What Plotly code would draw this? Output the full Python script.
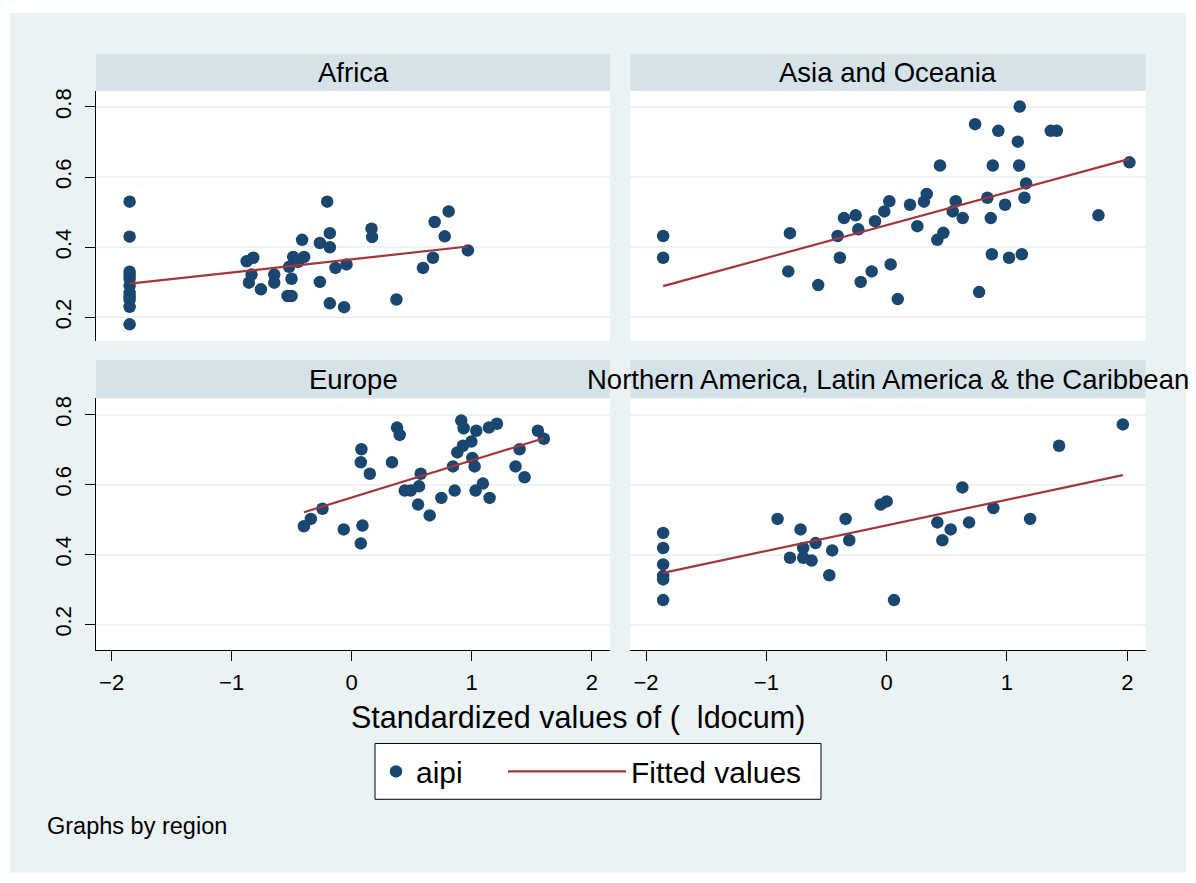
import plotly.graph_objects as go

W, H = 1196, 883
FONT = "Liberation Sans, Arial, sans-serif"
NAVY = "#1A476F"
MAROON = "#A3353D"
BG = "#EAF2F3"
STRIP = "#D5E3E9"

regions = ["Africa", "Asia and Oceania", "Europe",
           "Northern America, Latin America & the Caribbean"]

x_ticks = [-2, -1, 0, 1, 2]
x_tick_labels = ["\u22122", "\u22121", "0", "1", "2"]
y_ticks = [0.2, 0.4, 0.6, 0.8]
y_tick_labels = ["0.2", "0.4", "0.6", "0.8"]

africa_x = [-1.85, -1.85, -1.85, -1.85, -1.85, -1.85, -1.85, -1.85, -1.85, -1.85, -1.85,
            -0.875, -0.820, -0.834, -0.856, -0.756, -0.645, -0.645, -0.534, -0.501,
            -0.521, -0.501, -0.487, -0.446, -0.396, -0.413, -0.265, -0.265, -0.204,
            -0.182, -0.182, -0.182, -0.135, -0.063, -0.043, 0.165, 0.170, 0.373,
            0.594, 0.677, 0.691, 0.775, 0.808, 0.968]
africa_y = [0.53, 0.43, 0.33, 0.32, 0.31, 0.29, 0.27, 0.26, 0.25, 0.23, 0.18,
            0.360, 0.370, 0.322, 0.299, 0.280, 0.322, 0.299, 0.261, 0.261,
            0.344, 0.310, 0.372, 0.358, 0.372, 0.421, 0.412, 0.301, 0.530,
            0.440, 0.400, 0.240, 0.341, 0.229, 0.351, 0.453, 0.429, 0.251,
            0.341, 0.370, 0.472, 0.431, 0.502, 0.391]
africa_fit_x = [-1.85, 0.968]
africa_fit_y = [0.296, 0.402]

asia_x = [-1.858, -1.858, -0.804, -0.818, -0.569, -0.408, -0.389, -0.355, -0.258,
          -0.236, -0.216, -0.125, -0.097, -0.020, 0.022, 0.033, 0.092, 0.194, 0.255,
          0.310, 0.333, 0.421, 0.443, 0.471, 0.549, 0.574, 0.632, 0.735, 0.768,
          0.837, 0.865, 0.874, 0.882, 0.928, 0.984, 1.017, 1.090, 1.101, 1.106,
          1.123, 1.145, 1.159, 1.364, 1.414, 1.760, 2.018]
asia_y = [0.432, 0.370, 0.440, 0.331, 0.292, 0.432, 0.370, 0.483, 0.491,
          0.451, 0.301, 0.331, 0.474, 0.502, 0.531, 0.351, 0.252, 0.521, 0.460,
          0.530, 0.552, 0.421, 0.633, 0.441, 0.502, 0.531, 0.483, 0.751, 0.272,
          0.541, 0.483, 0.380, 0.633, 0.732, 0.521, 0.370, 0.701, 0.633, 0.801,
          0.380, 0.541, 0.582, 0.732, 0.732, 0.491, 0.642]
asia_fit_x = [-1.858, 2.018]
asia_fit_y = [0.289, 0.652]

europe_x = [-0.398, -0.340, -0.243, -0.066, 0.081, 0.076, 0.151, 0.090, 0.076,
            0.336, 0.378, 0.400, 0.442, 0.492, 0.553, 0.561, 0.575, 0.650, 0.747,
            0.844, 0.858, 0.880, 0.913, 0.933, 0.927, 0.997, 1.005, 1.024, 1.038,
            1.032, 1.093, 1.149, 1.143, 1.210, 1.365, 1.399, 1.440, 1.551, 1.601]
europe_y = [0.481, 0.502, 0.531, 0.472, 0.701, 0.664, 0.631, 0.483, 0.432,
            0.664, 0.763, 0.742, 0.583, 0.583, 0.543, 0.595, 0.631, 0.512, 0.562,
            0.652, 0.583, 0.692, 0.783, 0.761, 0.711, 0.723, 0.676, 0.652, 0.754,
            0.583, 0.603, 0.562, 0.763, 0.774, 0.652, 0.701, 0.621, 0.754, 0.731]
europe_fit_x = [-0.398, 1.601]
europe_fit_y = [0.521, 0.7325]

americas_x = [-1.858, -1.858, -1.858, -1.858, -1.858, -1.858, -0.907, -0.804,
              -0.716, -0.694, -0.694, -0.624, -0.591, -0.477, -0.453, -0.341,
              -0.311, -0.050, 0.000, 0.061, 0.421, 0.463, 0.532, 0.629, 0.685,
              0.887, 1.192, 1.433, 1.963]
americas_y = [0.462, 0.419, 0.372, 0.339, 0.329, 0.270, 0.502, 0.391,
              0.472, 0.419, 0.391, 0.383, 0.433, 0.341, 0.412, 0.502,
              0.441, 0.543, 0.552, 0.270, 0.492, 0.441, 0.472, 0.592, 0.492,
              0.533, 0.502, 0.711, 0.772]
americas_fit_x = [-1.858, 1.963]
americas_fit_y = [0.348, 0.627]

# panel geometry (pixels)
LX = (96.0, 610.0)
RX = (630.4, 1145.6)
TY = (88.3, 339.0)
BY = (396.7, 649.0)
STRIP_T = (51.0, 88.3)
STRIP_B = (358.3, 396.7)


def fx(p):
    return p / W


def fy(p):
    return 1 - p / H


panels = [
    (regions[0], africa_x, africa_y, africa_fit_x, africa_fit_y, LX, TY, STRIP_T, True, False),
    (regions[1], asia_x, asia_y, asia_fit_x, asia_fit_y, RX, TY, STRIP_T, False, False),
    (regions[2], europe_x, europe_y, europe_fit_x, europe_fit_y, LX, BY, STRIP_B, True, True),
    (regions[3], americas_x, americas_y, americas_fit_x, americas_fit_y, RX, BY, STRIP_B, False, True),
]

fig = go.Figure()
layout_axes = {}
shapes = []
annotations = []

for i, (name, xs, ys, fxs, fys, XD, YD, SD, left, bottom) in enumerate(panels):
    n = i + 1
    xa = "x" if n == 1 else f"x{n}"
    ya = "y" if n == 1 else f"y{n}"
    fig.add_trace(go.Scatter(
        x=xs, y=ys, mode="markers", name="aipi", legendgroup="aipi",
        showlegend=(i == 0), legend="legend", xaxis=xa, yaxis=ya,
        marker=dict(size=12.5, color=NAVY, line=dict(width=0)),
        hoverinfo="skip"))
    fig.add_trace(go.Scatter(
        x=fxs, y=fys, mode="lines", name="Fitted values", legendgroup="fit",
        showlegend=(i == 0), legend="legend2", xaxis=xa, yaxis=ya,
        line=dict(color=MAROON, width=2.2), hoverinfo="skip"))

    yr = [0.133, 0.8455] if YD == TY else [0.128, 0.8465]
    layout_axes["xaxis" if n == 1 else f"xaxis{n}"] = dict(
        domain=[fx(XD[0]), fx(XD[1])], anchor=ya, range=[-2.13, 2.152],
        showgrid=False, zeroline=False,
        tickmode="array", tickvals=x_ticks, ticktext=x_tick_labels,
        showticklabels=bottom, ticks="outside" if bottom else "",
        ticklen=10, tickwidth=1, tickcolor="black",
        showline=bottom, linecolor="black", linewidth=1,
        ticklabelstandoff=3,
        tickfont=dict(family=FONT, size=22, color="black"))
    layout_axes["yaxis" if n == 1 else f"yaxis{n}"] = dict(
        domain=[fy(YD[1]), fy(YD[0])], anchor=xa, range=yr,
        showgrid=True, gridcolor=BG, gridwidth=2, zeroline=False,
        tickmode="array", tickvals=y_ticks, ticktext=y_tick_labels,
        showticklabels=left, ticks="outside" if left else "",
        ticklen=10, tickwidth=1, tickcolor="black",
        showline=left, linecolor="black", linewidth=1,
        tickangle=-90, ticklabelstandoff=5,
        tickfont=dict(family=FONT, size=22, color="black"))

    shapes.append(dict(type="rect", xref="paper", yref="paper",
                       x0=fx(XD[0]), x1=fx(XD[1]), y0=fy(SD[1]), y1=fy(SD[0]),
                       fillcolor=STRIP, line=dict(width=0), layer="below"))
    annotations.append(dict(text=name, xref="paper", yref="paper",
                            x=fx((XD[0] + XD[1]) / 2), y=fy((SD[0] + SD[1]) / 2),
                            xanchor="center", yanchor="middle", showarrow=False,
                            font=dict(family=FONT, size=27.5, color="black")))

# legend frame
shapes.append(dict(type="rect", xref="paper", yref="paper",
                   x0=fx(375), x1=fx(821), y0=fy(799), y1=fy(743),
                   fillcolor="white", line=dict(color="black", width=1), layer="below"))

# white frame around the graph region
shapes.append(dict(type="rect", xref="paper", yref="paper", x0=0, x1=1, y0=0, y1=1,
                   line=dict(color="white", width=20), fillcolor="rgba(0,0,0,0)",
                   layer="above"))

annotations.append(dict(text="Standardized values of (  ldocum)", xref="paper", yref="paper",
                        x=fx(577.5), y=fy(717), xanchor="center", yanchor="middle",
                        showarrow=False, font=dict(family=FONT, size=30.5, color="black")))
annotations.append(dict(text="Graphs by region", xref="paper", yref="paper",
                        x=fx(45), y=fy(826), xanchor="left", yanchor="middle",
                        showarrow=False, font=dict(family=FONT, size=23.5, color="black")))

legend_common = dict(orientation="h", yanchor="middle", y=fy(771),
                     bgcolor="rgba(0,0,0,0)", borderwidth=0,
                     font=dict(family=FONT, size=30, color="black"))

fig.update_layout(
    width=W, height=H,
    margin=dict(l=0, r=0, t=0, b=0),
    paper_bgcolor=BG, plot_bgcolor="white",
    font=dict(family=FONT, color="black"),
    shapes=shapes, annotations=annotations,
    legend=dict(x=fx(376), xanchor="left", itemwidth=30, **legend_common),
    legend2=dict(x=fx(503), xanchor="left", itemwidth=118, **legend_common),
    **layout_axes,
)

fig.write_html("out.html", config={"displayModeBar": False},
               post_script="document.body.style.margin='0';")
